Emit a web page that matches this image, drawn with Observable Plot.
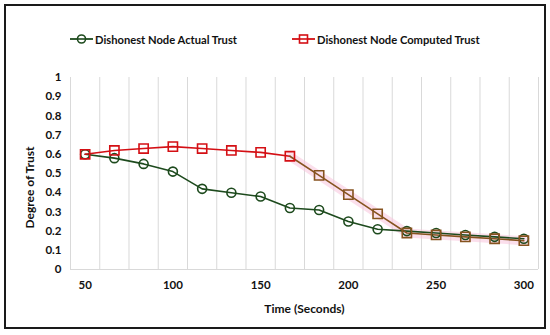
<!DOCTYPE html>
<html>
<head>
<meta charset="utf-8">
<script src="https://cdn.jsdelivr.net/npm/d3@7"></script>
<script src="https://cdn.jsdelivr.net/npm/@observablehq/plot@0.6"></script>
<style>
  html, body { margin: 0; padding: 0; background: #fff; }
  body { width: 550px; height: 335px; position: relative; overflow: hidden; font-family: Lato, "Open Sans", sans-serif; }
  #frame { position: absolute; left: 4px; top: 4px; width: 542px; height: 325px; border: 2px solid #1a1a1a; box-sizing: border-box; }
  #legend { position: absolute; top: 30px; left: 0; width: 550px; height: 18px; font-weight: bold; font-size: 11.2px; color: #111; }
  .item { position: absolute; top: 0; display: flex; align-items: center; height: 18px; }
  .item svg { margin-right: 2px; }
  #chart { position: absolute; left: 0; top: 55px; }
</style>
</head>
<body>
<div id="frame"></div>
<div id="legend"></div>
<div id="chart"></div>
<script>
const times = [50, 66.67, 83.33, 100, 116.67, 133.33, 150, 166.67, 183.33, 200, 216.67, 233.33, 250, 266.67, 283.33, 300];
const actualTrust = [0.60, 0.58, 0.55, 0.51, 0.42, 0.40, 0.38, 0.32, 0.31, 0.25, 0.21, 0.20, 0.19, 0.18, 0.17, 0.16];
const computedTrust = [0.60, 0.62, 0.63, 0.64, 0.63, 0.62, 0.61, 0.59, 0.49, 0.39, 0.29, 0.19, 0.18, 0.17, 0.16, 0.15];
const seriesNames = ["Dishonest Node Actual Trust", "Dishonest Node Computed Trust"];
const xTicks = [50, 100, 150, 200, 250, 300];
const yTicks = [0, 0.1, 0.2, 0.3, 0.4, 0.5, 0.6, 0.7, 0.8, 0.9, 1];

const green = "#1d4a1d";
const red = "#d40f14";
const brown = "#86531f";
const pink = "#f7c4dc";

const actual = times.map((t, i) => ({t, v: actualTrust[i]}));
const computed = times.map((t, i) => ({t, v: computedTrust[i], i}));
const compRed = computed.slice(0, 8);
const compBrown = computed.slice(7);

const step = times[1] - times[0];
const bounds = times.map(t => t - step / 2).concat([times[times.length - 1] + step / 2]);

const font = "Lato, 'Open Sans', sans-serif";

const chart = Plot.plot({
  width: 550,
  height: 280,
  marginLeft: 70,
  marginRight: 12,
  marginTop: 22,
  marginBottom: 66,
  style: {fontFamily: font, fontSize: "11.5px", fontWeight: "bold", color: "#111", background: "transparent"},
  x: {domain: [bounds[0], bounds[bounds.length - 1]]},
  y: {domain: [0, 1]},
  marks: [
    Plot.ruleX(bounds, {stroke: "#d9d9d9", strokeWidth: 1, y1: 0, y2: 1}),
    Plot.ruleY([0], {stroke: "#d9d9d9", strokeWidth: 1}),
    Plot.axisX({ticks: xTicks, tickSize: 0, tickPadding: 11, label: null, tickFormat: d => String(d)}),
    Plot.axisY({ticks: yTicks, tickSize: 0, tickPadding: 9, label: null, tickFormat: d => String(+d.toFixed(1))}),
    Plot.text(["Time (Seconds)"], {text: d => d, frameAnchor: "bottom", dy: 43, fontWeight: "bold", fontSize: 12}),
    Plot.text(["Degree of Trust"], {text: d => d, frameAnchor: "left", textAnchor: "middle", dx: -40, dy: 14, rotate: -90, fontWeight: "bold", fontSize: 12}),
    Plot.line(compBrown, {x: "t", y: "v", stroke: pink, strokeWidth: 9, strokeOpacity: 0.55, strokeLinejoin: "round"}),
    Plot.line(actual, {x: "t", y: "v", stroke: green, strokeWidth: 1.6}),
    Plot.line(compRed, {x: "t", y: "v", stroke: red, strokeWidth: 1.6}),
    Plot.line(compBrown, {x: "t", y: "v", stroke: brown, strokeWidth: 1.6}),
    Plot.dot(actual, {x: "t", y: "v", r: 4.5, stroke: green, strokeWidth: 1.6, fill: "none"}),
    Plot.dot(compRed, {x: "t", y: "v", symbol: "square", r: 5.2, stroke: red, strokeWidth: 1.6, fill: "none"}),
    Plot.dot(compBrown.slice(1), {x: "t", y: "v", symbol: "square", r: 5.2, stroke: brown, strokeWidth: 1.6, fill: "none"})
  ]
});
document.getElementById("chart").appendChild(chart);

// legend
const legend = document.getElementById("legend");
const items = [
  {name: seriesNames[0], color: green, shape: "circle", left: 70},
  {name: seriesNames[1], color: red, shape: "square", left: 292}
];
for (const it of items) {
  const div = document.createElement("div");
  div.className = "item";
  div.style.left = it.left + "px";
  const sw = d3.create("svg").attr("width", 23).attr("height", 18);
  sw.append("line").attr("x1", 0).attr("x2", 23).attr("y1", 9).attr("y2", 9).attr("stroke", it.color).attr("stroke-width", 1.8);
  if (it.shape === "circle") {
    sw.append("circle").attr("cx", 11.5).attr("cy", 9).attr("r", 4).attr("fill", "white").attr("stroke", it.color).attr("stroke-width", 1.6);
  } else {
    sw.append("rect").attr("x", 7.5).attr("y", 5).attr("width", 8).attr("height", 8).attr("fill", "white").attr("stroke", it.color).attr("stroke-width", 1.6);
  }
  sw.append("line").attr("x1", 7.5).attr("x2", 15.5).attr("y1", 9).attr("y2", 9).attr("stroke", it.color).attr("stroke-width", 1.6);
  div.appendChild(sw.node());
  const span = document.createElement("span");
  span.textContent = it.name;
  div.appendChild(span);
  legend.appendChild(div);
}
</script>
</body>
</html>
